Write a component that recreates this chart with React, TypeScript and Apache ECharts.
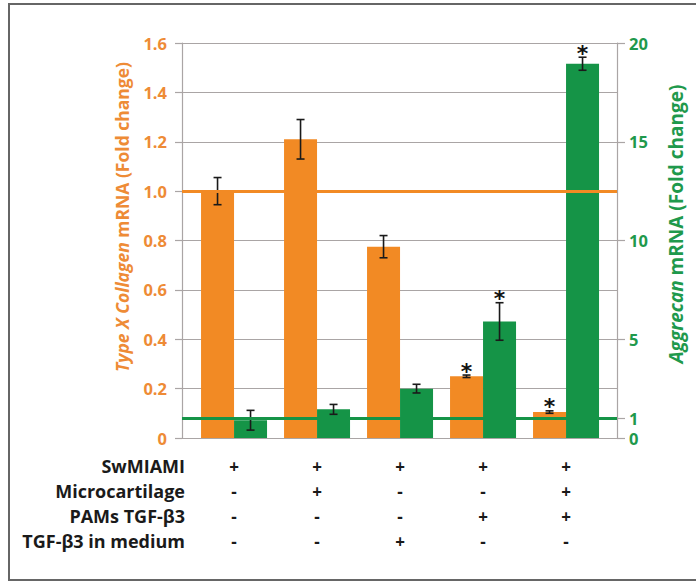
import React, { useEffect, useRef } from "react";
import * as echarts from "echarts";

// ---- data ----
const groups = ["G1", "G2", "G3", "G4", "G5"];
const collagenX = [1.0, 1.21, 0.775, 0.25, 0.105];
const collagenErr = [0.055, 0.08, 0.045, 0.005, 0.005];
const collagenStar = [0, 0, 0, 1, 1];
const aggrecan = [0.9, 1.45, 2.5, 5.9, 18.95];
const aggrecanErr = [0.5, 0.25, 0.22, 0.95, 0.33];
const aggrecanStar = [0, 0, 0, 1, 1];
const leftMin = 0;
const leftMax = 1.6;
const leftInterval = 0.2;
const rightMin = 0;
const rightMax = 20;
const rightLabels = [0, 1, 5, 10, 15, 20];
const collagenRef = 1.0;
const aggrecanRef = 1;
const rowLabels = ["SwMIAMI", "Microcartilage", "PAMs TGF-\u03b23", "TGF-\u03b23 in medium"];
const signs = [
  ["+", "+", "+", "+", "+"],
  ["-", "+", "-", "-", "+"],
  ["-", "-", "-", "+", "+"],
  ["-", "-", "+", "-", "-"],
];

const ORANGE = "#f28a24";
const ORANGE_TXT = "#ee8b36";
const GREEN = "#159447";
const GREEN_TXT = "#1f994c";
const GRID = "#aaa5a5";
const FONT = "'Open Sans', 'Noto Sans', sans-serif";
const BAR_W = 33;

function errorRender(offset: number) {
  return (params: any, api: any) => {
    const x = api.value(0);
    const v = api.value(1);
    const e = api.value(2);
    const s = api.value(3);
    const top = api.coord([x, v + e]);
    const bot = api.coord([x, v - e]);
    const cx = top[0] + offset;
    const ls = { stroke: "#1a1a1a", lineWidth: 1.6 };
    const children: any[] = [
      { type: "line", shape: { x1: cx, y1: top[1], x2: cx, y2: bot[1] }, style: ls },
      { type: "line", shape: { x1: cx - 4, y1: top[1], x2: cx + 4, y2: top[1] }, style: ls },
      { type: "line", shape: { x1: cx - 4, y1: bot[1], x2: cx + 4, y2: bot[1] }, style: ls },
    ];
    if (s) {
      children.push({
        type: "text",
        x: cx,
        y: top[1] - 4,
        style: {
          text: "*",
          font: "bold 22px 'DejaVu Sans'",
          fill: "#111",
          align: "center",
          verticalAlign: "middle",
        },
      });
    }
    return { type: "group", children };
  };
}

export default function App() {
  const ref = useRef<HTMLDivElement>(null);
  useEffect(() => {
    if (!ref.current) return;
    const chart = echarts.init(ref.current, null, { renderer: "svg" });
    const option: any = {
      animation: false,
      backgroundColor: "#ffffff",
      grid: { left: 182, right: 79, top: 43, bottom: 144 },
      xAxis: {
        type: "value",
        min: -0.627,
        max: 4.614,
        axisLine: { show: true, onZero: false, lineStyle: { color: GRID, width: 1.2 } },
        axisTick: { show: false },
        axisLabel: { show: false },
        splitLine: { show: false },
      },
      yAxis: [
        {
          type: "value",
          min: leftMin,
          max: leftMax,
          interval: leftInterval,
          position: "left",
          axisLine: { show: true, onZero: false, lineStyle: { color: GRID, width: 1.2 } },
          axisTick: { show: true, length: 7, lineStyle: { color: GRID, width: 1.2 } },
          axisLabel: {
            margin: 15,
            color: ORANGE_TXT,
            fontFamily: FONT,
            fontWeight: "bold",
            fontSize: 16.5,
            formatter: (v: number) => (v === 0 ? "0" : v.toFixed(1)),
          },
          splitLine: { show: true, lineStyle: { color: GRID, width: 1.2 } },
        },
        {
          type: "value",
          min: rightMin,
          max: rightMax,
          position: "right",
          axisLine: { show: true, onZero: false, lineStyle: { color: GRID, width: 1.2 } },
          axisTick: { show: true, length: 8, customValues: rightLabels, lineStyle: { color: GRID, width: 1.2 } },
          axisLabel: {
            margin: 12,
            customValues: rightLabels,
            formatter: (v: number) => `{a|${v}}`,
            rich: {
              a: {
                color: GREEN_TXT,
                fontFamily: FONT,
                fontWeight: "bold",
                fontSize: 16.5,
                lineHeight: 14,
              },
            },
          },
          splitLine: { show: false },
        },
      ],
      series: [
        {
          type: "line",
          yAxisIndex: 0,
          data: [],
          z: 1,
          silent: true,
          markLine: {
            symbol: "none",
            silent: true,
            label: { show: false },
            lineStyle: { color: ORANGE, width: 3, type: "solid" },
            data: [{ yAxis: collagenRef }],
          },
        },
        {
          type: "line",
          yAxisIndex: 1,
          data: [],
          z: 1,
          silent: true,
          markLine: {
            symbol: "none",
            silent: true,
            label: { show: false },
            lineStyle: { color: GREEN, width: 3, type: "solid" },
            data: [{ yAxis: aggrecanRef }],
          },
        },
        {
          type: "bar",
          yAxisIndex: 0,
          z: 2,
          barWidth: BAR_W,
          barGap: "0%",
          itemStyle: { color: ORANGE },
          data: groups.map((_, i) => [i, collagenX[i]]),
        },
        {
          type: "bar",
          yAxisIndex: 1,
          z: 2,
          barWidth: BAR_W,
          barGap: "0%",
          itemStyle: { color: GREEN },
          data: groups.map((_, i) => [i, aggrecan[i]]),
        },
        {
          type: "custom",
          yAxisIndex: 0,
          z: 3,
          renderItem: errorRender(-BAR_W / 2),
          data: groups.map((_, i) => [i, collagenX[i], collagenErr[i], collagenStar[i]]),
        },
        {
          type: "custom",
          yAxisIndex: 1,
          z: 3,
          renderItem: errorRender(BAR_W / 2),
          data: groups.map((_, i) => [i, aggrecan[i], aggrecanErr[i], aggrecanStar[i]]),
        },
      ],
    };
    chart.setOption(option);

    const xs = groups.map((_, i) => chart.convertToPixel({ xAxisIndex: 0 }, i) as number);
    const rowY = [466, 491, 516, 541];
    const graphic: any[] = [
      {
        type: "rect",
        shape: { x: 9, y: 4, width: 720, height: 576 },
        style: { fill: "none", stroke: "#666", lineWidth: 2 },
        z: 100,
      },
      {
        type: "text",
        x: 122,
        y: 217,
        rotation: Math.PI / 2,
        style: {
          text: "{i|Type X Collagen} mRNA (Fold change)",
          align: "center",
          verticalAlign: "middle",
          font: `bold 17.5px ${FONT}`,
          fill: ORANGE_TXT,
          rich: {
            i: { fontStyle: "italic", fontWeight: "bold", fontSize: 17.5, fontFamily: FONT, fill: ORANGE_TXT },
          },
        },
      },
      {
        type: "text",
        x: 676,
        y: 224,
        rotation: Math.PI / 2,
        style: {
          text: "{i|Aggrecan} mRNA (Fold change)",
          align: "center",
          verticalAlign: "middle",
          font: `bold 19px ${FONT}`,
          fill: GREEN_TXT,
          rich: {
            i: { fontStyle: "italic", fontWeight: "bold", fontSize: 19, fontFamily: FONT, fill: GREEN_TXT },
          },
        },
      },
    ];
    rowLabels.forEach((lab, r) => {
      graphic.push({
        type: "text",
        x: 185,
        y: rowY[r],
        style: {
          text: lab,
          align: "right",
          verticalAlign: "middle",
          font: `bold 18px ${FONT}`,
          fill: "#1a1a1a",
        },
      });
      signs[r].forEach((sg, c) => {
        graphic.push({
          type: "text",
          x: xs[c],
          y: rowY[r],
          style: {
            text: sg,
            align: "center",
            verticalAlign: "middle",
            font: `bold 17px ${FONT}`,
            fill: "#1a1a1a",
          },
        });
      });
    });
    chart.setOption({ graphic });
    return () => chart.dispose();
  }, []);
  return (
    <div
      ref={ref}
      style={{ position: "fixed", left: 0, top: 0, width: 696, height: 582 }}
    />
  );
}
